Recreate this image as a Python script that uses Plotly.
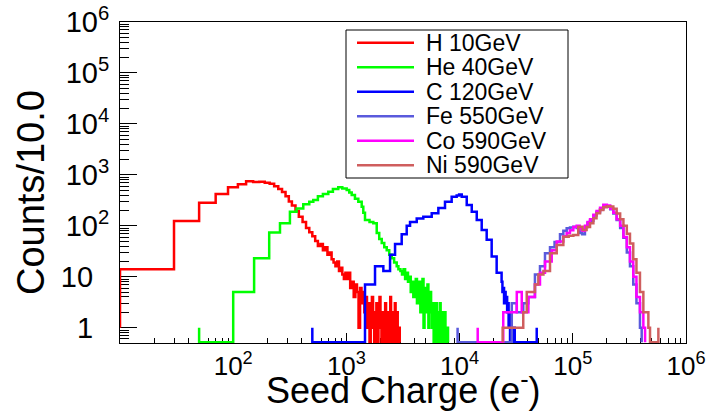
import math
import plotly.graph_objects as go

# ---------------- data ----------------
NAMES = ["H 10GeV", "He 40GeV", "C 120GeV", "Fe 550GeV", "Co 590GeV", "Ni 590GeV"]
COLORS = ["#ff0000", "#00ff00", "#0000ff", "#5a5adc", "#ff00ff", "#cf5e5e"]

# H 10GeV
H_EDGES = [10, 10, 30, 50, 70, 90, 110, 130, 150, 170, 190, 210, 230, 250, 270, 290, 310, 330, 355, 380,
           410, 440, 470, 500, 530, 560, 590, 620, 650, 680, 710, 740, 770, 800, 830, 860, 890, 920, 950, 980, 1000]
H_COUNTS = [1, 14, 124, 284, 421, 569, 652, 747, 720, 735, 700, 665, 600, 530, 460, 380, 300, 250, 195, 150,
            118, 90, 75, 62, 50, 40, 44, 33, 38, 27, 30, 22, 19, 16, 20, 13, 15, 11, 9, 12]
H_TAIL_STEP = 40
H_TAIL = [9, 12, 6, 8, 4, 7, 5, 1, 6, 3, 5, 2, 4, 1, 3, 0, 2, 4, 1, 0,
          2, 3, 0, 1, 4, 1, 0, 2, 1, 0, 3, 1, 0, 2, 1, 0, 4, 1, 0, 2,
          1, 0, 3, 1, 0, 2, 1, 0, 1, 0]

# He 40GeV
HE_EDGES = [50, 50, 100, 153, 208, 259, 317, 363, 416, 470, 510, 560, 620, 692, 760, 847, 920, 1006, 1060, 1114,
            1190, 1274, 1365, 1410, 1460, 1600, 1729, 1853, 1950, 2052, 2160, 2271, 2390, 2514, 2640, 2782, 2880, 3000]
HE_COUNTS = [1, 0, 5, 23, 74, 112, 189, 219, 265, 297, 321, 380, 420, 467, 530, 570, 540, 505, 450, 403,
             340, 297, 237, 180, 130, 118, 112, 72, 55, 46, 38, 33, 27, 23, 19, 16, 14]
HE_TAIL_STEP = 100
HE_TAIL = [13, 11, 14, 9, 12, 8, 10, 5, 8, 4, 7, 9, 3, 6, 8, 2, 5, 9, 1, 4,
           6, 2, 7, 1, 3, 5, 2, 1, 3, 0, 2, 1, 3, 0, 1, 2, 0, 3, 1, 0,
           2, 1, 0, 1, 2, 0, 1, 0, 1, 0]

# C 120GeV
C_EDGES = [500, 500, 1460, 1790, 2120, 2430, 2690, 3080, 3410, 3650, 4180, 4780, 5670, 6490, 7430, 8510, 9420,
           9900, 10440, 11560, 12800, 14170, 15680, 17350, 19200, 21250, 23500]
C_COUNTS = [1, 0, 7, 16, 13, 27, 44, 68, 100, 118, 139, 150, 177, 224, 297, 372, 395, 410, 372, 255,
            189, 130, 83, 53, 25, 12]
C_TAIL_STEP = 400
C_TAIL = [8, 5, 6, 3, 5, 3, 4, 2, 3, 1, 2, 0, 2, 1, 0, 1, 0, 1, 0]
C_POST_EDGES = [48000, 48000]
C_POST_COUNTS = [0, 1]

# Fe 550GeV
FE_EDGES = [9600, 9600, 28900, 32000, 36500, 40500, 46300, 51300, 56800, 62900, 69000, 77100, 82500, 88300,
            94400, 101100, 108200, 115000, 121000, 128000, 135000, 142000, 152000, 162000, 174000, 186000,
            200000, 214000, 228000, 244000, 262000, 280000, 300000, 320000, 342000, 365000, 392000, 406000]
FE_COUNTS = [1, 0, 3, 2, 3, 4, 11, 16, 29, 38, 48, 68, 80, 89, 92, 96, 90, 72, 68, 95,
             115, 125, 160, 185, 210, 240, 235, 210, 175, 130, 90, 58, 30, 16, 7, 3, 1]

# Co 590GeV
CO_EDGES = [14450, 14450, 24300, 28900, 32000, 35400, 40500, 46300, 51300, 56800, 65100, 72100, 82500, 88300,
            94400, 101100, 108200, 115000, 121000, 128000, 135000, 142000, 152000, 162000, 174000, 186000,
            200000, 214000, 228000, 244000, 262000, 280000, 300000, 320000, 342000, 365000, 392000, 420000, 435000]
CO_COUNTS = [1, 0, 2, 2, 5, 2, 4, 7, 12, 20, 33, 49, 62, 72, 82, 95, 100, 85, 80, 100,
             118, 135, 165, 195, 225, 260, 250, 215, 180, 135, 100, 60, 38, 20, 10, 4, 2, 1]

# Ni 590GeV
NI_EDGES = [24000, 24000, 36500, 39200, 46300, 49600, 55000, 62900, 72100, 82500, 92000, 101100, 111700,
            122000, 132400, 142000, 152000, 162000, 174000, 186000, 200000, 214000, 228000, 244000, 262000,
            280000, 300000, 320000, 342000, 365000, 392000, 420000, 465000, 481000, 570000, 570000]
NI_COUNTS = [0, 1, 2, 5, 7, 11, 13, 29, 42, 61, 64, 66, 96, 83, 95, 112, 140, 176, 205, 230,
             243, 240, 215, 175, 135, 100, 70, 45, 22, 12, 5, 2, 1, 0, 1]

NBSP = "\u00a0"
X_TICKS = [10, 100, 1000, 10000, 100000, 1000000]
X_TICKTEXT = ["", "10<sup>2</sup>", "10<sup>3</sup>", "10<sup>4</sup>", "10<sup>5</sup>", "10<sup>6</sup>"]
Y_TICKS = [1, 10, 100, 1000, 10000, 100000, 1000000]
Y_TICKTEXT = ["1" + NBSP * 2, "10" + NBSP * 2, "10<sup>2</sup>", "10<sup>3</sup>", "10<sup>4</sup>",
              "10<sup>5</sup>", "10<sup>6</sup>"]
X_TITLE = "Seed Charge (e<sup>-</sup>)"
Y_TITLE = "Counts/10.0"

X_RANGE = [10, 1e6]
Y_RANGE = [0.5, 1e6]


# ---------------- helpers ----------------
def assemble(edges, counts, tail_step=None, tail=None, post_edges=None, post_counts=None):
    e = list(edges)
    c = list(counts)
    if tail:
        start = e[-1]
        e += [start + tail_step * (k + 1) for k in range(len(tail))]
        c += list(tail)
    if post_edges:
        e += list(post_edges)
        c += list(post_counts)
    return e, c


FLOOR = 0.52


def step_xy(e, c):
    yy = [v if v > 0 else FLOOR for v in c]
    x = e[:-1] + [e[-1], e[-1]]
    y = yy + [yy[-1], FLOOR]
    return x, y


series = [
    assemble(H_EDGES, H_COUNTS, H_TAIL_STEP, H_TAIL),
    assemble(HE_EDGES, HE_COUNTS, HE_TAIL_STEP, HE_TAIL),
    assemble(C_EDGES, C_COUNTS, C_TAIL_STEP, C_TAIL, C_POST_EDGES, C_POST_COUNTS),
    assemble(FE_EDGES, FE_COUNTS),
    assemble(CO_EDGES, CO_COUNTS),
    assemble(NI_EDGES, NI_COUNTS),
]

W, H = 710, 412
PL, PR, PT, PB = 120, 686, 22, 343


def px_x(px):
    return (px - PL) / (PR - PL)


def px_y(py):
    return (PB - py) / (PB - PT)


FONT = "Liberation Sans, Arial, Helvetica, sans-serif"

fig = go.Figure()
for (e, c), name, col in zip(series, NAMES, COLORS):
    x, y = step_xy(e, c)
    fig.add_trace(go.Scatter(x=x, y=y, mode="lines", line=dict(color=col, width=2.5, shape="hv"),
                             name=name, showlegend=False, hoverinfo="skip"))

x_minor = [m * 10 ** k for k in range(1, 6) for m in range(2, 10)]
y_minor = [m * 10 ** k for k in range(-1, 6) for m in range(2, 10) if m * 10 ** k >= 0.5]

fig.update_xaxes(type="log", range=[math.log10(X_RANGE[0]), math.log10(X_RANGE[1])],
                 showline=True, linecolor="black", linewidth=1, mirror=True,
                 ticks="inside", ticklen=10, tickwidth=1, tickcolor="black",
                 tickmode="array", tickvals=X_TICKS, ticktext=X_TICKTEXT,
                 minor=dict(tickmode="array", tickvals=x_minor, ticks="inside", ticklen=5,
                            tickcolor="black", tickwidth=1, showgrid=False),
                 showgrid=False, zeroline=False, layer="below traces", automargin=False,
                 tickfont=dict(family=FONT, size=26, color="black"), ticklabelstandoff=0)
fig.update_yaxes(type="log", range=[math.log10(Y_RANGE[0]), math.log10(Y_RANGE[1])],
                 showline=True, linecolor="black", linewidth=1, mirror=True,
                 ticks="inside", ticklen=17, tickwidth=1, tickcolor="black",
                 tickmode="array", tickvals=Y_TICKS, ticktext=Y_TICKTEXT,
                 minor=dict(tickmode="array", tickvals=y_minor, ticks="inside", ticklen=9,
                            tickcolor="black", tickwidth=1, showgrid=False),
                 showgrid=False, zeroline=False, layer="below traces", automargin=False,
                 tickfont=dict(family=FONT, size=29, color="black"), ticklabelstandoff=4)

shapes = [dict(type="rect", xref="paper", yref="paper", x0=px_x(346), x1=px_x(568), y0=px_y(178), y1=px_y(30),
               line=dict(color="black", width=1), fillcolor="white", layer="above")]
annotations = []
for i, (name, col) in enumerate(zip(NAMES, COLORS)):
    yc = 42.7 + i * 24.5
    shapes.append(dict(type="line", xref="paper", yref="paper", x0=px_x(357), x1=px_x(414), y0=px_y(yc), y1=px_y(yc),
                       line=dict(color=col, width=2.5), layer="above"))
    annotations.append(dict(xref="paper", yref="paper", x=px_x(425), y=px_y(yc), text=name, showarrow=False,
                            xanchor="left", yanchor="middle", borderpad=0,
                            font=dict(family=FONT, size=23, color="black")))

annotations.append(dict(xref="paper", yref="paper", x=px_x(403), y=px_y(388), text=X_TITLE, showarrow=False,
                        xanchor="center", yanchor="middle", borderpad=0,
                        font=dict(family=FONT, size=36, color="black")))
annotations.append(dict(xref="paper", yref="paper", x=px_x(31), y=px_y(193), text=Y_TITLE, showarrow=False,
                        textangle=-90, xanchor="center", yanchor="middle",
                        font=dict(family=FONT, size=38, color="black")))

fig.update_layout(width=W, height=H, margin=dict(l=PL, r=W - PR, t=PT, b=H - PB, pad=0),
                  template="none", paper_bgcolor="white", plot_bgcolor="white",
                  showlegend=False, shapes=shapes, annotations=annotations,
                  font=dict(family=FONT, color="black"))

fig.write_html("out.html")
